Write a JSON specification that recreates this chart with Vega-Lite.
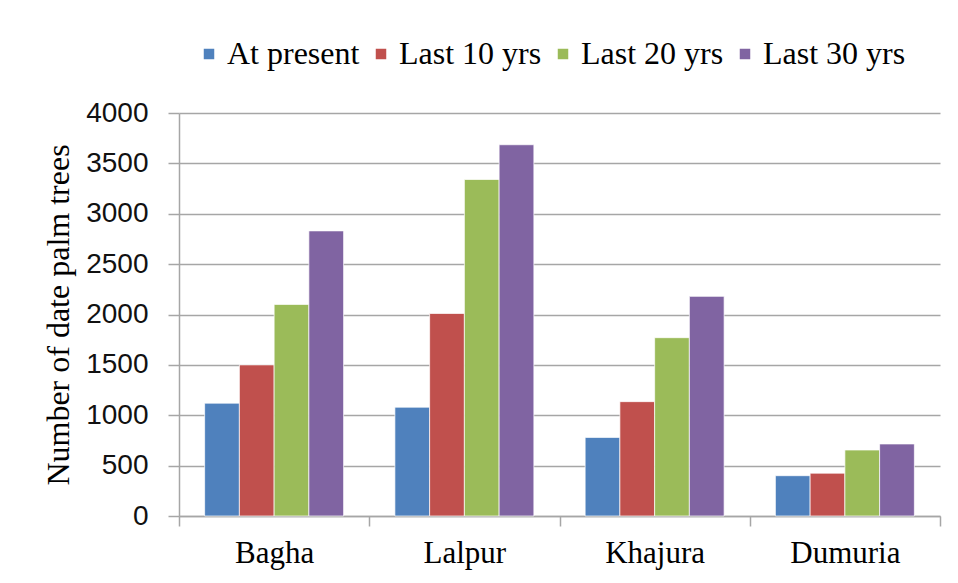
{
  "$schema": "https://vega.github.io/schema/vega-lite/v6.json",
  "width": 761,
  "height": 403,
  "autosize": {"type": "none"},
  "padding": {"left": 179, "top": 113, "right": 18, "bottom": 67},
  "background": "white",
  "data": {
    "values": [
      {"site": "Bagha", "period": "At present", "value": 1120},
      {"site": "Bagha", "period": "Last 10 yrs", "value": 1500},
      {"site": "Bagha", "period": "Last 20 yrs", "value": 2100},
      {"site": "Bagha", "period": "Last 30 yrs", "value": 2830},
      {"site": "Lalpur", "period": "At present", "value": 1080},
      {"site": "Lalpur", "period": "Last 10 yrs", "value": 2010},
      {"site": "Lalpur", "period": "Last 20 yrs", "value": 3340},
      {"site": "Lalpur", "period": "Last 30 yrs", "value": 3685},
      {"site": "Khajura", "period": "At present", "value": 780},
      {"site": "Khajura", "period": "Last 10 yrs", "value": 1135},
      {"site": "Khajura", "period": "Last 20 yrs", "value": 1770},
      {"site": "Khajura", "period": "Last 30 yrs", "value": 2180},
      {"site": "Dumuria", "period": "At present", "value": 400},
      {"site": "Dumuria", "period": "Last 10 yrs", "value": 425},
      {"site": "Dumuria", "period": "Last 20 yrs", "value": 655},
      {"site": "Dumuria", "period": "Last 30 yrs", "value": 715}
    ]
  },
  "mark": {"type": "bar", "stroke": "white", "strokeWidth": 1, "strokeOpacity": 0.7},
  "encoding": {
    "x": {
      "field": "site",
      "type": "nominal",
      "sort": ["Bagha", "Lalpur", "Khajura", "Dumuria"],
      "scale": {"paddingInner": 0, "paddingOuter": 0},
      "axis": {
        "title": null,
        "labelAngle": 0,
        "tickBand": "extent",
        "tickSize": 10,
        "tickColor": "#a6a6a6",
        "tickWidth": 1.5,
        "domainColor": "#a6a6a6",
        "domainWidth": 1.5,
        "labelFont": "Liberation Serif",
        "labelFontSize": 31,
        "labelColor": "#000000",
        "labelPadding": 12,
        "grid": false
      }
    },
    "xOffset": {
      "field": "period",
      "type": "nominal",
      "sort": ["At present", "Last 10 yrs", "Last 20 yrs", "Last 30 yrs"],
      "scale": {"paddingInner": 0, "paddingOuter": 0.738}
    },
    "y": {
      "field": "value",
      "type": "quantitative",
      "scale": {"domain": [0, 4000], "nice": false},
      "axis": {
        "title": "Number of date palm trees",
        "titleFont": "Liberation Serif",
        "titleFontSize": 32,
        "titleFontWeight": "normal",
        "titleColor": "#000000",
        "titlePadding": 10,
        "values": [0, 500, 1000, 1500, 2000, 2500, 3000, 3500, 4000],
        "format": "d",
        "labelFont": "Liberation Sans",
        "labelFontSize": 28,
        "labelColor": "#111111",
        "labelPadding": 20,
        "tickSize": 11,
        "tickColor": "#a6a6a6",
        "tickWidth": 1.5,
        "domainColor": "#a6a6a6",
        "domainWidth": 1.5,
        "grid": true,
        "gridColor": "#a6a6a6",
        "gridWidth": 1.5
      }
    },
    "color": {
      "field": "period",
      "type": "nominal",
      "sort": ["At present", "Last 10 yrs", "Last 20 yrs", "Last 30 yrs"],
      "scale": {
        "domain": ["At present", "Last 10 yrs", "Last 20 yrs", "Last 30 yrs"],
        "range": ["#4F81BD", "#C0504D", "#9BBB59", "#8064A2"]
      },
      "legend": {
        "title": null,
        "orient": "none",
        "direction": "horizontal",
        "columns": 4,
        "legendX": 14,
        "legendY": -75,
        "symbolType": "square",
        "symbolSize": 110,
        "symbolStrokeWidth": 0,
        "symbolOpacity": 1,
        "labelFont": "Liberation Serif",
        "labelFontSize": 32,
        "labelColor": "#000000",
        "labelOffset": 2,
        "columnPadding": 5,
        "labelLimit": 300
      }
    }
  },
  "config": {
    "view": {"stroke": null}
  }
}
